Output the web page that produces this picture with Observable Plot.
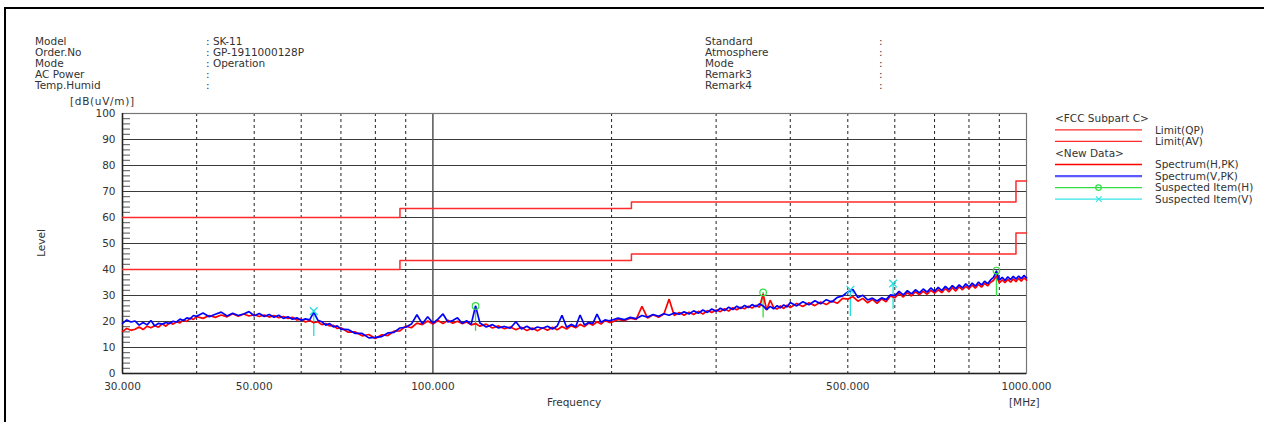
<!DOCTYPE html>
<html><head><meta charset="utf-8">
<script src="https://cdn.jsdelivr.net/npm/d3@7"></script>
<script src="https://cdn.jsdelivr.net/npm/@observablehq/plot@0.6"></script>
<style>
body{margin:0;background:#fff;}
#wrap{position:relative;width:1264px;height:422px;overflow:hidden;font-family:"DejaVu Sans",sans-serif;}
#frame{position:absolute;left:4px;top:7px;width:1300px;height:500px;border-left:2px solid #000;border-top:2px solid #000;}
#chart{position:absolute;left:0;top:0;}
#overlay{position:absolute;left:0;top:0;}
</style></head>
<body><div id="wrap"><div id="frame"></div><div id="chart"></div><svg id="overlay" width="1264" height="422"></svg></div>
<script>
// ---- header info ----
const headerLeftLabels = ["Model","Order.No","Mode","AC Power","Temp.Humid"];
const headerLeftValues = [": SK-11",": GP-1911000128P",": Operation",":",":"];
const headerRightLabels = ["Standard","Atmosphere","Mode","Remark3","Remark4"];
const headerRightValues = [":",":",":",":",":"];

// ---- axes ----
const yTicks = [0,10,20,30,40,50,60,70,80,90,100];
const yGrid = [10,20,30,40,50,60,70,80,90];
const yMinor = [2,4,6,8,12,14,16,18,22,24,26,28,32,34,36,38,42,44,46,48,52,54,56,58,62,64,66,68,72,74,76,78,82,84,86,88,92,94,96,98];
const xTicks = [30,50,100,500,1000];
const xDashed = [40,50,60,70,80,90,200,300,400,500,600,700,800,900];
const xSolid = [100];

// ---- limits (FCC Subpart C) ----
const limitFreq = [30,88,216,960,1000];
const limitQP = [60,63.5,66,74,74];
const limitAV = [40,43.5,46,54,54];

// ---- spectrum ----
const freqMHz = [
30,30.5,31,31.5,32,32.5,33,33.5,34,34.5,35,35.5,36,36.5,37,37.5,38,38.5,39,39.5,
40,41,42,43,44,45,46,47,48,49,50,51,52,53,54,55,56,57,58,59,60,61,62,63,64,65,66,67,68,69,
70,72,74,76,78,80,82,84,86,88,90,92,94,96,98,100,102,104,106,108,110,112,114,116,118,
120,123,126,129,132,135,138,141,144,147,150,153,156,159,162,165,168,171,174,177,180,183,186,189,192,195,198,
200,205,210,215,220,225,230,235,240,245,250,255,260,265,270,275,280,285,290,295,
300,305,310,315,320,325,330,335,340,345,350,355,360,365,370,375,380,385,390,395,
400,410,420,430,440,450,460,470,480,490,500,510,520,530,540,550,560,570,580,590,
600,610,620,630,640,650,660,670,680,690,700,710,720,730,740,750,760,770,780,790,
800,810,820,830,840,850,860,870,880,890,900,910,920,930,940,950,960,970,980,990,1000];
const levelH = [
16.2,17.3,16.6,17.0,17.9,16.9,18.2,17.6,18.4,17.8,19.1,18.2,19.5,19.0,19.8,19.5,20.6,20.0,21.3,20.8,
21.9,21.2,22.3,21.6,22.5,21.8,23.0,22.0,22.9,22.1,22.6,21.9,22.5,21.7,22.3,21.5,21.9,21.2,21.6,20.6,20.9,19.8,20.4,19.5,19.9,18.8,19.2,18.3,18.5,17.3,
17.6,15.9,16.0,14.5,15.0,13.5,14.9,14.6,16.3,16.4,18.2,17.6,19.4,18.8,20.2,19.0,20.4,19.2,20.5,19.3,20.1,19.2,19.8,18.7,19.2,
18.2,19.0,17.5,18.3,17.2,17.9,16.8,17.8,16.5,17.5,16.4,17.6,16.6,17.8,16.8,18.1,17.1,18.4,17.6,18.9,18.0,19.4,18.6,19.9,19.0,20.4,19.7,
19.7,20.8,20.3,21.3,20.8,25.8,21.3,22.6,21.6,22.9,28.6,22.3,23.5,22.4,23.6,22.7,23.9,22.9,24.2,23.5,
24.4,23.8,24.9,24.0,25.3,24.5,25.5,24.9,25.9,25.2,26.2,25.5,30.6,24.4,28.2,25.3,24.8,26.0,25.0,26.3,
25.4,26.9,25.8,27.2,26.1,27.5,26.5,27.9,27.0,28.9,28.6,29.6,27.8,28.9,27.2,28.5,27.0,28.7,27.6,29.8,
29.1,30.9,29.4,31.2,29.8,31.5,30.3,31.6,30.5,32.0,30.9,32.2,31.1,32.7,31.4,33.0,31.7,33.4,32.2,33.5,
32.6,34.0,32.8,34.3,33.2,34.7,33.7,35.1,35.8,37.6,34.8,36.0,34.9,36.2,35.1,36.4,35.3,36.6,35.5,36.8,35.9];
const levelV = [
19.3,20.6,19.8,20.2,18.6,19.6,18.7,20.4,18.3,19.3,19.0,19.6,19.2,20.1,19.8,20.9,20.4,21.4,21.0,22.3,
22.0,23.3,21.8,22.8,23.6,22.1,23.2,22.3,22.9,23.8,22.2,23.1,21.9,22.7,21.6,22.4,21.2,21.8,20.9,21.4,20.5,21.0,20.6,23.6,20.5,19.9,18.6,19.2,17.9,18.3,
17.1,16.9,15.4,15.4,13.7,13.9,14.2,15.6,15.8,17.5,17.8,19.0,22.6,19.1,21.8,19.4,20.9,22.9,19.8,20.4,21.4,19.3,20.3,18.9,26.0,
19.4,17.9,18.8,17.5,18.1,17.4,19.9,17.1,18.2,16.9,17.9,17.4,18.2,17.1,18.3,22.4,17.8,18.9,18.0,22.5,18.7,19.6,19.3,22.8,19.7,20.6,20.3,
20.5,21.3,20.7,21.6,21.1,22.3,21.7,22.7,22.0,23.0,22.4,23.3,22.8,23.7,22.9,24.1,23.2,24.4,23.5,24.8,
23.9,25.1,24.2,25.5,24.6,25.9,25.0,26.2,25.4,26.5,25.7,26.8,26.0,24.6,25.8,24.9,26.1,25.2,26.4,25.6,
27.3,26.0,27.6,26.4,28.0,26.8,28.4,27.5,29.3,29.8,31.4,32.3,29.2,30.1,28.3,29.0,27.9,29.1,28.4,30.3,
29.9,31.6,30.2,31.9,30.6,32.2,31.0,32.5,31.3,32.9,31.6,33.1,31.9,33.5,32.3,33.8,32.6,34.1,32.9,34.5,
33.3,34.8,33.6,35.2,34.0,35.5,34.5,36.0,37.0,39.4,35.9,37.0,35.8,37.2,36.1,37.4,36.3,37.5,36.5,37.7,36.8];

// ---- suspected items ----
const suspectHFreq = [118,360,890];
const suspectHLevel = [26.0,31.2,39.6];
const suspectHLow = [16.2,21.3,29.6];
const suspectVFreq = [63,505,596];
const suspectVLevel = [24.0,32.2,34.6];
const suspectVLow = [14.2,21.9,24.6];

// ---- legend ----
const legendRows = [
  {kind:"title", text:"<FCC Subpart C>"},
  {kind:"line", text:"Limit(QP)", color:"#ff2a2a", width:1.3},
  {kind:"line", text:"Limit(AV)", color:"#ff2a2a", width:1.3},
  {kind:"title", text:"<New Data>"},
  {kind:"line", text:"Spectrum(H,PK)", color:"#ff0000", width:1.3},
  {kind:"line", text:"Spectrum(V,PK)", color:"#5a5aff", width:2.2},
  {kind:"line", text:"Suspected Item(H)", color:"#33dd44", width:1.3, symbol:"circle"},
  {kind:"line", text:"Suspected Item(V)", color:"#33e6e6", width:1.3, symbol:"times"}
];

const colH = "#ff0000", colV = "#0000ff", colSH = "#33dd44", colSV = "#22dddd", colLim = "#ff2a2a";

const specH = freqMHz.map((f,i)=>({f, v: levelH[i]}));
const specV = freqMHz.map((f,i)=>({f, v: levelV[i]}));
const limQP = limitFreq.map((f,i)=>({f, v: limitQP[i]}));
const limAV = limitFreq.map((f,i)=>({f, v: limitAV[i]}));
const susH = suspectHFreq.map((f,i)=>({f, v: suspectHLevel[i], lo: suspectHLow[i]}));
const susV = suspectVFreq.map((f,i)=>({f, v: suspectVLevel[i], lo: suspectVLow[i]}));

const chart = Plot.plot({
  width: 1264, height: 422,
  marginLeft: 122, marginRight: 238, marginTop: 113, marginBottom: 49,
  x: {type: "log", domain: [30, 1000]},
  y: {domain: [0, 100]},
  style: {fontFamily: "DejaVu Sans, sans-serif", fontSize: "10.5px", color: "#333", background: "transparent"},
  marks: [
    Plot.ruleY(yGrid, {stroke: "#3a3a3a", strokeWidth: 1.2}),
    Plot.ruleX(xDashed, {stroke: "#222", strokeDasharray: "3,3"}),
    Plot.ruleX(xSolid, {stroke: "#555", strokeWidth: 1.5}),
    Plot.frame({stroke: "#777", strokeWidth: 1.2}),
    Plot.axisY({ticks: yMinor, tickSize: -8, tickFormat: () => "", label: null, stroke: "#555"}),
    Plot.axisY({ticks: yTicks, tickSize: 0, tickPadding: 7, label: null, fill: "#333"}),
    Plot.axisX({ticks: xTicks, tickSize: 0, tickPadding: 9, tickFormat: d3.format(".3f"), label: null, fill: "#333"}),
    Plot.ruleX([30], {stroke: "#222", strokeWidth: 1.5}),
    Plot.ruleY([0], {stroke: "#222", strokeWidth: 1.5}),
    Plot.line(limQP, {x: "f", y: "v", curve: "step-after", stroke: colLim, strokeWidth: 1.5}),
    Plot.line(limAV, {x: "f", y: "v", curve: "step-after", stroke: colLim, strokeWidth: 1.5}),
    Plot.ruleX(susH, {x: "f", y1: "lo", y2: "v", stroke: colSH, strokeWidth: 1.3}),
    Plot.ruleX(susV, {x: "f", y1: "lo", y2: "v", stroke: colSV, strokeWidth: 1.3}),
    Plot.line(specH, {x: "f", y: "v", stroke: colH, strokeWidth: 1.7, strokeLinejoin: "miter"}),
    Plot.line(specV, {x: "f", y: "v", stroke: colV, strokeWidth: 1.7, strokeLinejoin: "miter"}),
    Plot.dot(susH, {x: "f", y: "v", r: 3.3, stroke: colSH, fill: "none", strokeWidth: 1.2}),
    Plot.dot(susV, {x: "f", y: "v", r: 3.6, symbol: "times", stroke: colSV, strokeWidth: 1.3})
  ]
});
document.getElementById("chart").appendChild(chart);

// ---- overlay texts ----
const ov = d3.select("#overlay").style("font-family", "DejaVu Sans, sans-serif").style("font-size", "10.5px");
const tcol = "#333";
headerLeftLabels.forEach((t,i) => ov.append("text").attr("x", 35).attr("y", 44.5 + i*11.2).attr("fill", tcol).text(t));
headerLeftValues.forEach((t,i) => ov.append("text").attr("x", 206).attr("y", 44.5 + i*11.2).attr("fill", tcol).text(t));
headerRightLabels.forEach((t,i) => ov.append("text").attr("x", 705).attr("y", 44.5 + i*11.2).attr("fill", tcol).text(t));
headerRightValues.forEach((t,i) => ov.append("text").attr("x", 879).attr("y", 44.5 + i*11.2).attr("fill", tcol).text(t));
ov.append("text").attr("x", 70).attr("y", 105).attr("fill", tcol).style("letter-spacing", "0.7px").text("[dB(uV/m)]");
ov.append("text").attr("transform", "translate(45,243) rotate(-90)").attr("text-anchor", "middle").attr("fill", tcol).text("Level");
ov.append("text").attr("x", 574).attr("y", 406).attr("text-anchor", "middle").attr("fill", tcol).text("Frequency");
ov.append("text").attr("x", 1009).attr("y", 406).attr("fill", tcol).text("[MHz]");

legendRows.forEach((r,i) => {
  const cy = 118.3 + i*11.55;
  if (r.kind === "title") {
    ov.append("text").attr("x", 1055).attr("y", cy + 3.8).attr("fill", tcol).text(r.text);
  } else {
    ov.append("line").attr("x1", 1055).attr("x2", 1142).attr("y1", cy).attr("y2", cy).attr("stroke", r.color).attr("stroke-width", r.width);
    if (r.symbol === "circle") ov.append("circle").attr("cx", 1098.5).attr("cy", cy).attr("r", 2.8).attr("fill", "none").attr("stroke", r.color).attr("stroke-width", 1.2);
    if (r.symbol === "times") ov.append("path").attr("d", `M${1096},${cy-2.8}L${1101.6},${cy+2.8}M${1101.6},${cy-2.8}L${1096},${cy+2.8}`).attr("stroke", r.color).attr("stroke-width", 1.2);
    ov.append("text").attr("x", 1155).attr("y", cy + 3.8).attr("fill", tcol).text(r.text);
  }
});
</script>
</body></html>
